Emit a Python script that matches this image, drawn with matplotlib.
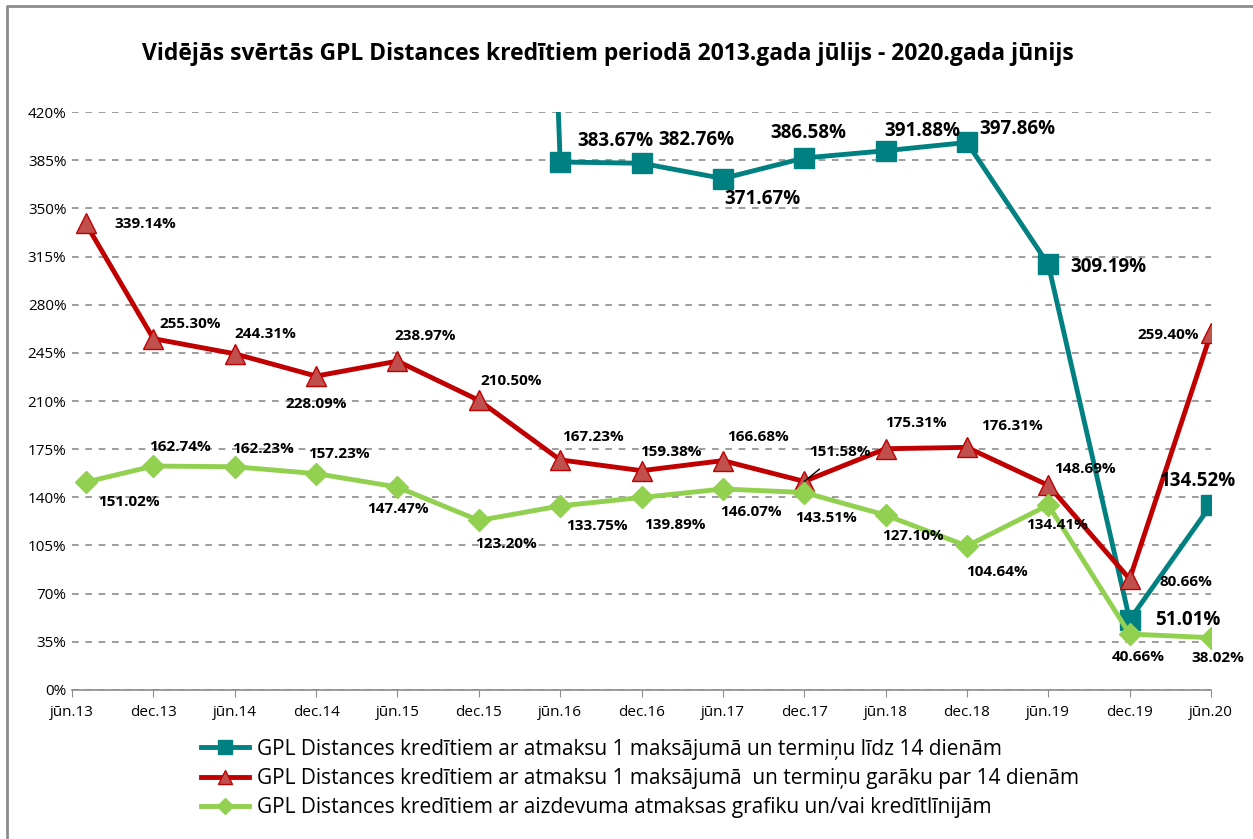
import numpy as np
import matplotlib.pyplot as plt
from matplotlib.lines import Line2D

plt.rcParams['font.family'] = ['Open Sans', 'DejaVu Sans']

# mēneši kopš 2013. gada jūnija
menesi = [1, 6, 12, 18, 24, 30, 36, 42, 48, 54, 60, 66, 72, 78, 84]
tick_menesi = list(range(0, 85, 6))
tick_labels = ['jūn.13', 'dec.13', 'jūn.14', 'dec.14', 'jūn.15', 'dec.15', 'jūn.16', 'dec.16',
               'jūn.17', 'dec.17', 'jūn.18', 'dec.18', 'jūn.19', 'dec.19', 'jūn.20']

lidz14 = [np.nan, np.nan, np.nan, np.nan, np.nan, 2000.0, 383.67, 382.76, 371.67, 386.58,
          391.88, 397.86, 309.19, 51.01, 134.52]
garaks14 = [339.14, 255.30, 244.31, 228.09, 238.97, 210.50, 167.23, 159.38, 166.68, 151.58,
            175.31, 176.31, 148.69, 80.66, 259.40]
grafiks = [151.02, 162.74, 162.23, 157.23, 147.47, 123.20, 133.75, 139.89, 146.07, 143.51,
           127.10, 104.64, 134.41, 40.66, 38.02]

names = ['GPL Distances kredītiem ar atmaksu 1 maksājumā un termiņu līdz 14 dienām',
         'GPL Distances kredītiem ar atmaksu 1 maksājumā  un termiņu garāku par 14 dienām',
         'GPL Distances kredītiem ar aizdevuma atmaksas grafiku un/vai kredītlīnijām']

# etiķešu nobīdes (pikseļos)
off_teal = [None] * 6 + [(55, 21), (55, 23), (40, -20), (4, 25), (37, 20), (50, 13), (60, -3),
                         (58, 0), (-13, 24)]
off_red = [(60, -1), (37, 15), (31, 20), (0, -28), (28, 25), (32, 19), (33, 23), (29, 19),
           (35, 24), (36, 29), (30, 26), (45, 21), (37, 16), (56, -3), (-43, -2)]
off_green = [(43, -20), (27, 19), (28, 18), (23, 20), (0, -22), (27, -24), (37, -20), (33, -28),
             (28, -23), (22, -25), (27, -21), (30, -26), (9, -20), (9, -23), (7, -20)]

fig = plt.figure(figsize=(12.53, 8.39), dpi=100)
ax = fig.add_axes([0.0575, 0.1776, 0.909, 0.6889])
fig.lines.append(Line2D([0.0056, 0.0056, 1.0], [0.0, 0.9925, 0.9925], transform=fig.transFigure,
                        color='#8c8c8c', lw=2))

ax.plot(menesi, lidz14, color='#008080', lw=3.5, marker='s', ms=14, mfc='#008080',
        mec='#008080', label=names[0], zorder=3)
ax.plot(menesi, garaks14, color='#C00000', lw=3.5, marker='^', ms=14, mfc='#C0504D',
        mec='#C00000', label=names[1], zorder=4)
ax.plot(menesi, grafiks, color='#92D050', lw=3.5, marker='D', ms=11, mfc='#92D050',
        mec='#92D050', label=names[2], zorder=5)

for vals, offs, fs in [(lidz14, off_teal, 13.5), (garaks14, off_red, 11), (grafiks, off_green, 11)]:
    for m, v, o in zip(menesi, vals, offs):
        if o is None:
            continue
        if vals is garaks14 and v == 151.58:
            ax.annotate(f'{v:.2f}%', (m, v), xytext=o, textcoords='offset pixels',
                        ha='center', va='center', fontsize=fs, fontweight='bold', zorder=6,
                        arrowprops=dict(arrowstyle='-', color='black', lw=1, shrinkA=8, shrinkB=0))
        else:
            ax.annotate(f'{v:.2f}%', (m, v), xytext=o, textcoords='offset pixels',
                        ha='center', va='center', fontsize=fs, fontweight='bold', zorder=6)

ax.set_xlim(0, 84)
ax.set_ylim(0, 420)
ax.set_yticks(range(0, 421, 35))
ax.set_yticklabels([f'{t}%' for t in range(0, 421, 35)], fontsize=11)
ax.set_xticks(tick_menesi)
ax.set_xticklabels(tick_labels, fontsize=11)
ax.tick_params(axis='y', length=0, pad=4)
ax.tick_params(axis='x', length=5, color='#8c8c8c', pad=6)
ax.yaxis.grid(True, linestyle=(0, (4, 4)), color='#8c8c8c', lw=1.2)
ax.set_axisbelow(True)
for s in ['top', 'right', 'left']:
    ax.spines[s].set_visible(False)
ax.spines['bottom'].set_color('#8c8c8c')
ax.spines['bottom'].set_linewidth(1.2)

fig.suptitle('Vidējās svērtās GPL Distances kredītiem periodā 2013.gada jūlijs - 2020.gada jūnijs',
             x=0.485, y=0.95, fontsize=16.5, fontweight='bold')

fig.legend(loc='upper left', bbox_to_anchor=(0.152, 0.132), frameon=False, fontsize=15,
           handlelength=2.3, handletextpad=0.4, labelspacing=0.39, markerscale=0.7,
           borderpad=0)

fig.savefig('out.png', dpi=100)
